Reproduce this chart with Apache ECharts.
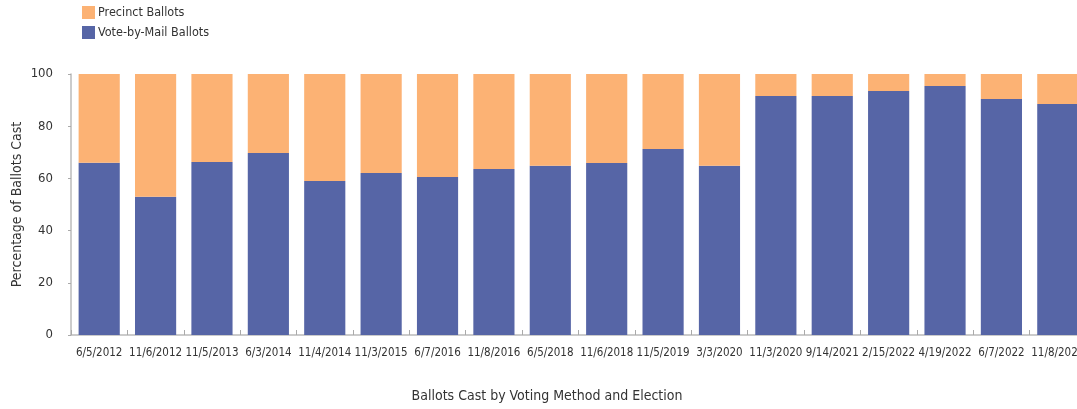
<!DOCTYPE html>
<html>
<head>
<meta charset="utf-8">
<script src="https://cdn.jsdelivr.net/npm/echarts@6/dist/echarts.min.js"></script>
<style>
html,body{margin:0;padding:0;background:#fff;}
#main{width:1077px;height:409px;}
</style>
</head>
<body>
<div id="main"></div>
<script>
var categories = ["6/5/2012","11/6/2012","11/5/2013","6/3/2014","11/4/2014","11/3/2015","6/7/2016","11/8/2016","6/5/2018","11/6/2018","11/5/2019","3/3/2020","11/3/2020","9/14/2021","2/15/2022","4/19/2022","6/7/2022","11/8/2022"];
var voteByMail = [66, 53, 66.3, 69.7, 59, 62.1, 60.5, 63.6, 64.8, 65.9, 71.3, 64.8, 91.6, 91.6, 93.5, 95.4, 90.4, 88.5];
var precinct = [34, 47, 33.7, 30.3, 41, 37.9, 39.5, 36.4, 35.2, 34.1, 28.7, 35.2, 8.4, 8.4, 6.5, 4.6, 9.6, 11.5];
var yTicks = [0, 20, 40, 60, 80, 100];

var FONT = "'Liberation Sans Narrow', 'DejaVu Sans Condensed', 'DejaVu Sans', sans-serif";
var FW = 'condensed';
var TXT = '#333333';
var chart = echarts.init(document.getElementById('main'));
chart.setOption({
  animation: false,
  textStyle: {fontFamily: FONT},
  legend: {
    orient: 'vertical', left: 77, top: 1,
    itemWidth: 13, itemHeight: 13, itemGap: 7,
    icon: 'rect',
    data: ['Precinct Ballots', 'Vote-by-Mail Ballots'],
    textStyle: {fontFamily: FONT, fontWeight: FW, fontSize: 12.5, color: TXT, padding: [0,0,0,-2]}
  },
  grid: {left: 71, top: 74, width: 1015, height: 261, containLabel: false, outerBoundsMode: 'none'},
  xAxis: {
    type: 'category', data: categories,
    axisLine: {show: true, lineStyle: {color: '#bbbbbb', width: 1.5}},
    axisTick: {show: true, inside: true, length: 5, alignWithLabel: false, lineStyle: {color: '#aaaaaa'}},
    axisLabel: {interval: 0, fontFamily: FONT, fontWeight: FW, fontSize: 11.5, color: TXT, margin: 12}
  },
  yAxis: {
    type: 'value', min: yTicks[0], max: yTicks[yTicks.length-1], interval: 20,
    name: 'Percentage of Ballots Cast', nameLocation: 'middle', nameGap: 47, nameRotate: 90,
    nameMoveOverlap: false,
    nameTextStyle: {fontFamily: FONT, fontWeight: FW, fontSize: 14, color: TXT},
    axisLine: {show: true, lineStyle: {color: '#bbbbbb', width: 1.5}},
    axisTick: {show: true, length: 3, lineStyle: {color: '#aaaaaa'}},
    splitLine: {show: false},
    axisLabel: {fontFamily: FONT, fontWeight: FW, fontSize: 13, color: TXT, margin: 18}
  },
  graphic: [{
    type: 'text', x: 547, y: 396,
    style: {text: 'Ballots Cast by Voting Method and Election', fontFamily: FONT, fontWeight: FW, fontSize: 14, fill: TXT, align: 'center', verticalAlign: 'middle', textAlign: 'center', textVerticalAlign: 'middle'}
  }],
  series: [
    {name: 'Vote-by-Mail Ballots', type: 'bar', stack: 'total', data: voteByMail, barWidth: '73%',
     itemStyle: {color: '#5665A6'}},
    {name: 'Precinct Ballots', type: 'bar', stack: 'total', data: precinct, barWidth: '73%',
     itemStyle: {color: '#FCB274'}}
  ]
});
</script>
</body>
</html>
